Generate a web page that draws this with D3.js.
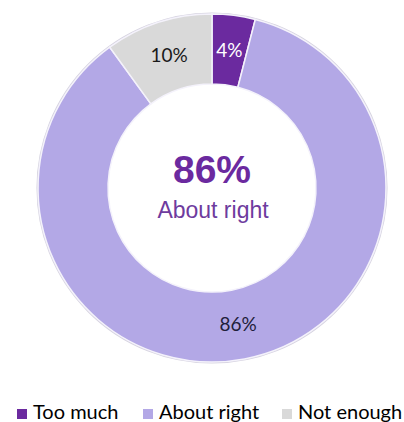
<!DOCTYPE html>
<html>
<head>
<meta charset="utf-8">
<script src="https://cdn.jsdelivr.net/npm/d3@7"></script>
<style>
  body { margin: 0; background: #fff; }
  svg { display: block; }
</style>
</head>
<body>
<div id="chart"></div>
<script>
// answer categories, clockwise from 12 o'clock
const categories = ['Too much', 'About right', 'Not enough'];
const shares = [4, 86, 10];
const colors = ['#6b2a9f', '#b3a8e6', '#d9d9d9'];
const labelColors = ['#ffffff', '#1f1d3a', '#1a1a1a'];

const width = 404;
const height = 422;
const cx = 212;
const cy = 188;
const outerR = 174;
const innerR = 104;

const svg = d3.select('#chart').append('svg')
  .attr('width', width)
  .attr('height', height);

const data = categories.map((c, i) => ({ name: c, value: shares[i], i }));

const pie = d3.pie().sort(null).value((d) => d.value);
const arc = d3.arc().innerRadius(innerR).outerRadius(outerR);

const g = svg.append('g').attr('transform', `translate(${cx},${cy})`);

// faint shadow ring on the outside edge
g.append('circle')
  .attr('r', outerR + 0.8)
  .attr('fill', 'none')
  .attr('stroke', '#d6d3e0')
  .attr('stroke-width', 1.5);

const arcs = pie(data);

g.selectAll('path')
  .data(arcs)
  .join('path')
  .attr('d', arc)
  .attr('fill', (d) => colors[d.data.i])
  .attr('stroke', '#f4f2fb')
  .attr('stroke-width', 1.5);

g.selectAll('text.slice')
  .data(arcs)
  .join('text')
  .attr('class', 'slice')
  .attr('transform', (d) => {
    const [x, y] = arc.centroid(d);
    return `translate(${x},${y})`;
  })
  .attr('text-anchor', 'middle')
  .attr('dy', '0.35em')
  .attr('font-family', 'Lato, "Open Sans", sans-serif')
  .attr('font-size', 19)
  .attr('fill', (d) => labelColors[d.data.i])
  .text((d) => `${d.data.value}%`);

// big number in the middle
g.append('text')
  .attr('x', 0)
  .attr('y', -5)
  .attr('text-anchor', 'middle')
  .attr('font-family', '"Liberation Sans", Arial, sans-serif')
  .attr('font-weight', 'bold')
  .attr('font-size', 39)
  .attr('fill', '#6b2a9f')
  .text(`${shares[1]}%`);

g.append('text')
  .attr('x', 1)
  .attr('y', 30)
  .attr('text-anchor', 'middle')
  .attr('font-family', '"Liberation Sans", Arial, sans-serif')
  .attr('font-size', 23)
  .attr('fill', '#6e3b9e')
  .text(categories[1]);

// legend along the bottom
const legendX = [17, 143, 282];
const legend = svg.append('g').attr('transform', 'translate(0,419)');

const item = legend.selectAll('g')
  .data(data)
  .join('g')
  .attr('transform', (d) => `translate(${legendX[d.i]},0)`);

item.append('rect')
  .attr('x', 0)
  .attr('y', -10)
  .attr('width', 10)
  .attr('height', 10)
  .attr('fill', (d) => colors[d.i]);

item.append('text')
  .attr('x', 16)
  .attr('y', 0)
  .attr('font-family', 'Lato, "Open Sans", sans-serif')
  .attr('font-size', 20)
  .attr('fill', '#000')
  .text((d) => d.name);
</script>
</body>
</html>
